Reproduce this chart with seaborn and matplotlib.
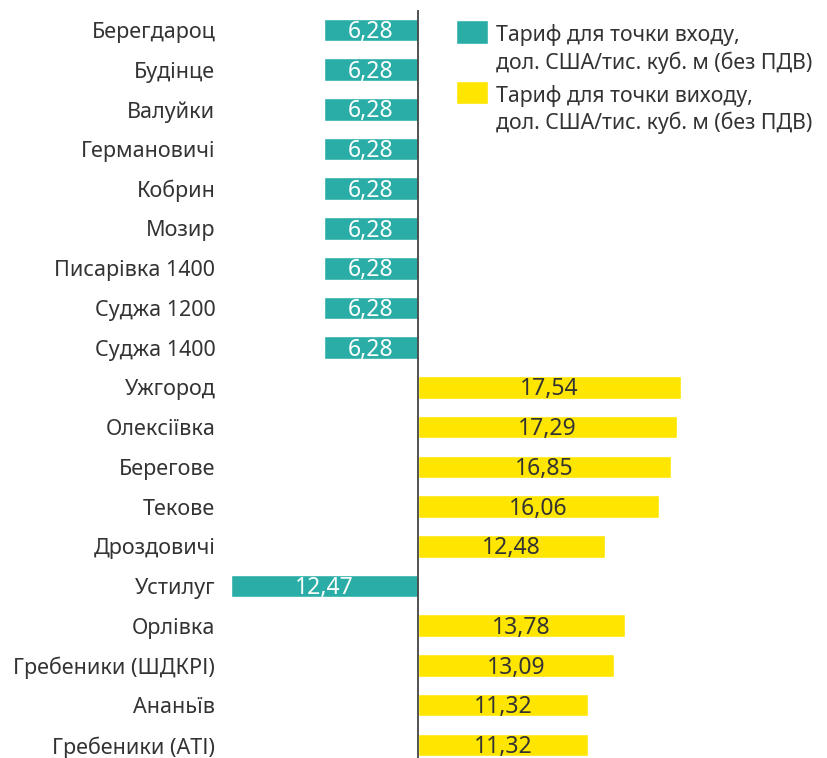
import pandas as pd
import numpy as np
import matplotlib
matplotlib.use('Agg')
import matplotlib.pyplot as plt
from matplotlib.patches import Rectangle
from matplotlib.legend_handler import HandlerPatch
import seaborn as sns

# --------------------------
# DATA
# --------------------------
points = ['Берегдароц', 'Будінце', 'Валуйки', 'Германовичі', 'Кобрин', 'Мозир',
          'Писарівка 1400', 'Суджа 1200', 'Суджа 1400', 'Ужгород', 'Олексіївка',
          'Берегове', 'Текове', 'Дроздовичі', 'Устилуг', 'Орлівка',
          'Гребеники (ШДКРІ)', 'Ананьїв', 'Гребеники (АТІ)']
tariffs = [6.28, 6.28, 6.28, 6.28, 6.28, 6.28, 6.28, 6.28, 6.28, 17.54, 17.29,
           16.85, 16.06, 12.48, 12.47, 13.78, 13.09, 11.32, 11.32]
kinds = ['in'] * 9 + ['out'] * 5 + ['in'] + ['out'] * 4

label_in = 'Тариф для точки входу,\nдол. США/тис. куб. м (без ПДВ)'
label_out = 'Тариф для точки виходу,\nдол. США/тис. куб. м (без ПДВ)'
teal = '#2AADA7'
yellow = '#FFE600'
txt = '#333333'

df = pd.DataFrame({'point': points, 'tariff': tariffs, 'kind': kinds})
df['label'] = df['kind'].map({'in': label_in, 'out': label_out})
# entry tariffs go left of zero
df['value'] = np.where(df['kind'] == 'in', -df['tariff'], df['tariff'])

# --------------------------
# FIGURE
# --------------------------
sns.set_style('white')
plt.rcParams['font.family'] = ['Noto Sans', 'DejaVu Sans']
FS = 15.5
FS_LEG = 15.3

fig = plt.figure(figsize=(8.27, 7.58), dpi=100)
ax = fig.add_axes([225 / 827, 0, 602 / 827, 748 / 758])

sns.barplot(data=df, x='value', y='point', hue='label', order=points,
            hue_order=[label_in, label_out], palette=[teal, yellow],
            dodge=False, orient='h', width=0.57, saturation=1, ax=ax)

for cont, col in zip(ax.containers, ['white', txt]):
    labs = []
    for bar in cont:
        w = bar.get_width()
        labs.append('' if np.isnan(w) or w == 0 else f'{abs(w):.2f}'.replace('.', ','))
    for t in ax.bar_label(cont, labels=labs, label_type='center', color=col, fontsize=16.5):
        t.set_position((0, -1.5))

ax.axvline(0, color='#444444', linewidth=1.3)
ax.set_xlim(-12.87, 27.27)
ax.set_ylim(18.33, -0.5)
ax.set_xlabel('')
ax.set_ylabel('')
ax.set_xticks([])
ax.tick_params(axis='y', length=0, pad=7, labelsize=FS, labelcolor=txt)
sns.despine(ax=ax, left=True, bottom=True)


# legend square sits next to the first line of the two-line label
def top_square(legend, orig_handle, xdescent, ydescent, width, height, fontsize):
    h = 1.1 * fontsize
    return Rectangle((-xdescent, -ydescent + height - h + 0.45 * fontsize), width, h)


handles, labels = ax.get_legend_handles_labels()
leg = ax.legend(handles, labels, loc='upper left',
                bbox_to_anchor=(437 / 827, 1 - 5 / 758),
                bbox_transform=fig.transFigure, frameon=False, fontsize=FS_LEG,
                handlelength=1.5, handleheight=2.6, handletextpad=0.38,
                labelspacing=0.52,
                handler_map={Rectangle: HandlerPatch(patch_func=top_square)})
for t in leg.get_texts():
    t.set_color(txt)
    t.set_linespacing(1.3)

plt.savefig('out.png', dpi=100)
